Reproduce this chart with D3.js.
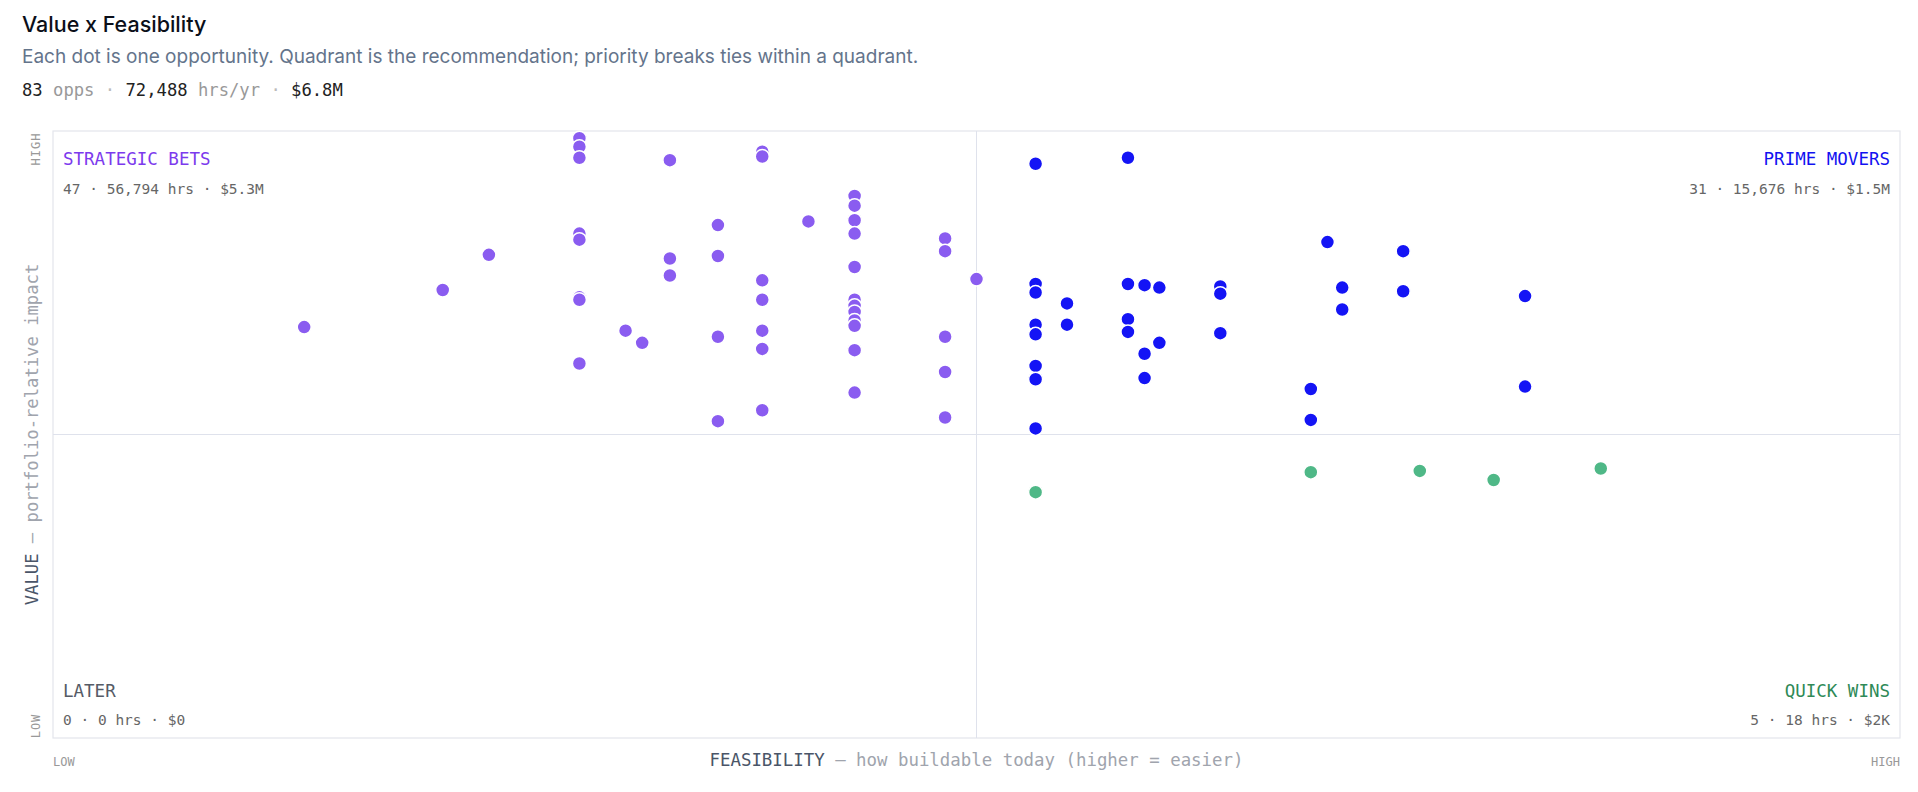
<!DOCTYPE html>
<html><head><meta charset="utf-8">
<script src="https://cdn.jsdelivr.net/npm/d3@7"></script>
<style>
body{margin:0;background:#fff;font-family:Inter,"Noto Sans",sans-serif}
</style></head><body>
<svg id="chart" width="1918" height="792"></svg>
<script>
// Raw dot positions (displayed-coordinate reading), converted to 0..1 feasibility / value
const toF = x => +((x - 43) / 1510).toFixed(3);
const toV = y => +((603 - y) / 496).toFixed(3);

const strategicPts = [[473,113],[473,120],[473,129],[548,131],[623,124],[623,128],[698,160],[698,168],[698,180],[698,191],[660,181],[586,184],[473,191],[473,196],[399,208],[548,211],[586,209],[772,195],[772,205],[698,218],[548,225],[623,229],[798,228],[361,237],[473,243],[473,245],[623,245],[698,245],[698,250],[698,255],[698,262],[698,266],[249,267],[511,270],[623,270],[524,280],[586,275],[772,275],[623,285],[698,286],[473,297],[772,304],[698,321],[623,335],[586,344],[772,341]];
const primePts = [[847,134],[922,129],[1085,198],[1147,205],[847,232],[847,239],[922,232],[935,233],[947,235],[997,234],[997,240],[872,248],[1097,235],[1097,253],[1147,238],[1247,242],[847,265],[872,265],[922,261],[922,271],[847,273],[947,280],[997,272],[935,289],[847,299],[935,309],[847,310],[1071,318],[1247,316],[1071,343],[847,350]];
const quickPts = [[847,402],[1071,386],[1160,385],[1221,392],[1309,383]];

const quadrants = ["strategic", "prime", "quick", "later"];
const quadLabels = ["STRATEGIC BETS", "PRIME MOVERS", "QUICK WINS", "LATER"];
const quadStats = ["47 · 56,794 hrs · $5.3M", "31 · 15,676 hrs · $1.5M", "5 · 18 hrs · $2K", "0 · 0 hrs · $0"];
const dotColors = { strategic: "#8a5cf0", prime: "#1414f5", quick: "#4fb887" };
const labelColors = ["#7c3aed", "#1212f0", "#2f8a57", "#555b66"];

const points = [
  ...strategicPts.map(p => ({ q: "strategic", f: toF(p[0]), v: toV(p[1]) })),
  ...primePts.map(p => ({ q: "prime", f: toF(p[0]), v: toV(p[1]) })),
  ...quickPts.map(p => ({ q: "quick", f: toF(p[0]), v: toV(p[1]) }))
];

const svg = d3.select("#chart");
const mono = "'DejaVu Sans Mono', monospace";

// Header
svg.append("text").attr("x", 22).attr("y", 32).attr("font-size", 21.5).attr("font-weight", 500)
  .attr("fill", "#0b0f19").text("Value x Feasibility");
svg.append("text").attr("x", 22).attr("y", 63).attr("font-size", 19).attr("fill", "#64748b")
  .text("Each dot is one opportunity. Quadrant is the recommendation; priority breaks ties within a quadrant.");
const stats = svg.append("text").attr("x", 22).attr("y", 96).attr("font-family", mono).attr("font-size", 17.2);
[["83", "#222"], [" opps", "#999"], [" · ", "#bbb"], ["72,488", "#222"], [" hrs/yr", "#999"], [" · ", "#bbb"], ["$6.8M", "#222"]]
  .forEach(([t, c]) => stats.append("tspan").attr("fill", c).text(t));

// Plot area
const L = 53, R = 1900, T = 131, B = 738;
const x = d3.scaleLinear().domain([0, 1]).range([L, R]);
const y = d3.scaleLinear().domain([0, 1]).range([B, T]);

svg.append("rect").attr("x", L).attr("y", T).attr("width", R - L).attr("height", B - T)
  .attr("fill", "none").attr("stroke", "#e3e5ec").attr("stroke-width", 1.2);
svg.append("line").attr("x1", x(0.5)).attr("x2", x(0.5)).attr("y1", T).attr("y2", B).attr("stroke", "#dfe2ec");
svg.append("line").attr("x1", L).attr("x2", R).attr("y1", y(0.5)).attr("y2", y(0.5)).attr("stroke", "#dfe2ec");

// Quadrant labels
const pos = [
  { x: L + 10, anchor: "start", top: true },
  { x: R - 10, anchor: "end", top: true },
  { x: R - 10, anchor: "end", top: false },
  { x: L + 10, anchor: "start", top: false }
];
quadrants.forEach((q, i) => {
  const p = pos[i];
  const ly = p.top ? T + 34 : B - 41;
  svg.append("text").attr("x", p.x).attr("y", ly).attr("text-anchor", p.anchor)
    .attr("font-family", mono).attr("font-size", 17.5).attr("fill", labelColors[i]).text(quadLabels[i]);
  svg.append("text").attr("x", p.x).attr("y", ly + (p.top ? 29 : 28)).attr("text-anchor", p.anchor)
    .attr("font-family", mono).attr("font-size", 14.5).attr("fill", "#666").text(quadStats[i]);
});

// Axis labels
svg.append("text").attr("transform", `translate(${L - 13},${T + 18}) rotate(-90)`).attr("text-anchor", "middle")
  .attr("font-family", mono).attr("font-size", 12).attr("fill", "#999").attr("letter-spacing", 1).text("HIGH");
svg.append("text").attr("transform", `translate(${L - 13},${B - 12}) rotate(-90)`).attr("text-anchor", "middle")
  .attr("font-family", mono).attr("font-size", 12).attr("fill", "#999").attr("letter-spacing", 1).text("LOW");
const yt = svg.append("text").attr("transform", `translate(${L - 15},${(T + B) / 2}) rotate(-90)`)
  .attr("text-anchor", "middle").attr("font-family", mono).attr("font-size", 17.2);
yt.append("tspan").attr("fill", "#4a5568").text("VALUE");
yt.append("tspan").attr("fill", "#a0a4ad").text(" — portfolio-relative impact");

svg.append("text").attr("x", L).attr("y", B + 28).attr("font-family", mono).attr("font-size", 12).attr("fill", "#999").text("LOW");
svg.append("text").attr("x", R).attr("y", B + 28).attr("text-anchor", "end").attr("font-family", mono).attr("font-size", 12).attr("fill", "#999").text("HIGH");
const xt = svg.append("text").attr("x", x(0.5)).attr("y", B + 28).attr("text-anchor", "middle")
  .attr("font-family", mono).attr("font-size", 17.4);
xt.append("tspan").attr("fill", "#4a5568").text("FEASIBILITY");
xt.append("tspan").attr("fill", "#a0a4ad").text(" — how buildable today (higher = easier)");

// Dots
svg.append("g").selectAll("circle").data(points).join("circle")
  .attr("cx", d => x(d.f)).attr("cy", d => y(d.v)).attr("r", 7)
  .attr("fill", d => dotColors[d.q]).attr("stroke", "#fff").attr("stroke-width", 1.5);
</script>
</body></html>
